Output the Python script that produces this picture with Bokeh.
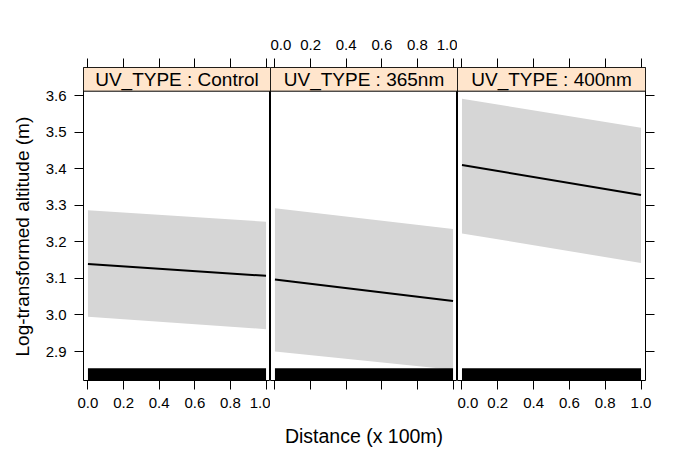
from bokeh.plotting import figure
from bokeh.layouts import row
from bokeh.models import Range1d, LinearAxis, FixedTicker, Title
from bokeh.core.properties import value
from bokeh.embed import file_html
from bokeh.resources import INLINE

# ---- data ----
panels = ["Control", "365nm", "400nm"]
distance = [0.0, 1.0]
fit_control = [3.139, 3.107]
upper_control = [3.286, 3.255]
lower_control = [2.995, 2.961]
fit_365 = [3.097, 3.038]
upper_365 = [3.292, 3.235]
lower_365 = [2.900, 2.850]
fit_400 = [3.410, 3.328]
upper_400 = [3.591, 3.512]
lower_400 = [3.223, 3.142]
rug_range = [0.0, 1.0]
x_ticks = [0.0, 0.2, 0.4, 0.6, 0.8, 1.0]
x_tick_labels = ["0.0", "0.2", "0.4", "0.6", "0.8", "1.0"]
y_ticks = [2.9, 3.0, 3.1, 3.2, 3.3, 3.4, 3.5, 3.6]
y_tick_labels = ["2.9", "3.0", "3.1", "3.2", "3.3", "3.4", "3.5", "3.6"]
x_title = "Distance (x 100m)"
y_title = "Log-transformed altitude (m)"

fits = [fit_control, fit_365, fit_400]
uppers = [upper_control, upper_365, upper_400]
lowers = [lower_control, lower_365, lower_400]

# ---- layout constants ----
X0, X1 = -0.025, 1.025
Y0, Y1 = 2.8207, 3.6766
STRIP_BOTTOM = 3.6118
RUG_TOP = 2.854
FONT = "Liberation Sans"
TOP, BOTTOM = 67, 80
FRAME_H = 313
H = TOP + FRAME_H + BOTTOM

specs = [
    dict(width=82 + 188, left=82, right=0),
    dict(width=187, left=0, right=0),
    dict(width=188 + 40, left=0, right=40),
]


def style_axis(ax, show_labels, standoff):
    ax.axis_line_color = None
    ax.major_tick_in = 0
    ax.major_tick_out = 9
    ax.major_tick_line_color = "black"
    ax.minor_tick_line_color = None
    ax.major_label_text_font = FONT
    ax.major_label_text_font_size = "15px"
    ax.major_label_standoff = standoff
    ax.major_label_text_color = "black" if show_labels else None


figs = []
for i, name in enumerate(panels):
    s = specs[i]
    p = figure(width=s["width"], height=H,
               x_range=Range1d(X0, X1), y_range=Range1d(Y0, Y1),
               x_axis_location=None, y_axis_location=None,
               output_backend="svg", toolbar_location=None,
               min_border_left=s["left"], min_border_right=s["right"],
               min_border_top=TOP, min_border_bottom=BOTTOM)
    p.grid.grid_line_color = None
    p.outline_line_color = "black"
    p.outline_line_width = 1
    p.background_fill_color = "white"
    p.border_fill_color = "white"

    # axes
    bx = LinearAxis(ticker=FixedTicker(ticks=x_ticks),
                    major_label_overrides=dict(zip(x_ticks, x_tick_labels)))
    style_axis(bx, i != 1, 8)
    if i == 1:
        bx.axis_label = x_title
        bx.axis_label_text_font = FONT
        bx.axis_label_text_font_size = "19.5px"
        bx.axis_label_text_font_style = "normal"
        bx.axis_label_text_color = "black"
        bx.axis_label_standoff = 35
    p.add_layout(bx, "below")
    tx = LinearAxis(ticker=FixedTicker(ticks=x_ticks),
                    major_label_overrides=dict(zip(x_ticks, x_tick_labels)))
    style_axis(tx, i == 1, 9)
    p.add_layout(tx, "above")
    if i == 0:
        ly = LinearAxis(ticker=FixedTicker(ticks=y_ticks),
                        major_label_overrides=dict(zip(y_ticks, y_tick_labels)))
        style_axis(ly, True, 8)
        p.add_layout(ly, "left")
        yt = Title(text=y_title, align="left",
                   text_font=FONT, text_font_size="19px",
                   text_font_style="normal", text_color="black",
                   standoff=19, offset=24)
        p.add_layout(yt, "left")
    if i == 2:
        ry = LinearAxis(ticker=FixedTicker(ticks=y_ticks),
                        major_label_overrides=dict(zip(y_ticks, y_tick_labels)))
        style_axis(ry, False, 8)
        p.add_layout(ry, "right")

    # confidence band and fit
    p.varea(x=distance, y1=lowers[i], y2=uppers[i], fill_color="#d6d6d6")
    p.line(x=distance, y=fits[i], line_color="black", line_width=2)

    # rug
    p.quad(left=[rug_range[0]], right=[rug_range[1]], bottom=[Y0], top=[RUG_TOP],
           fill_color="black", line_color=None)

    # strip
    p.quad(left=[X0], right=[X1], bottom=[STRIP_BOTTOM], top=[Y1],
           fill_color="#ffe5cc", line_color="black", line_width=1)
    p.text(x=[0.5], y=[(STRIP_BOTTOM + Y1) / 2], text=[f"UV_TYPE : {name}"],
           text_align="center", text_baseline="middle",
           text_font=value(FONT), text_font_size="19px", text_color="black")
    figs.append(p)

layout = row(*figs)
open("out.html", "w").write(file_html(layout, INLINE))
